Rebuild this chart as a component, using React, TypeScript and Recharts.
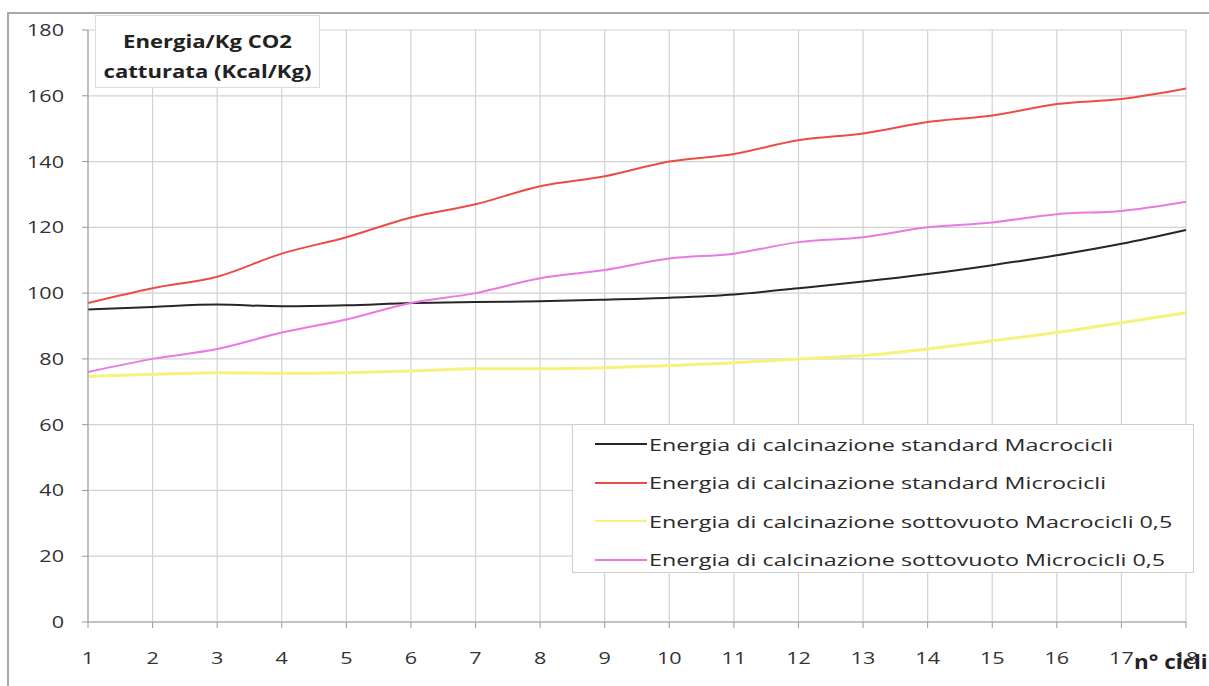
import React from 'react';
import { LineChart, Line, XAxis, YAxis, CartesianGrid } from 'recharts';

const cycles = ['1', '2', '3', '4', '5', '6', '7', '8', '9', '10', '11', '12', '13', '14', '15', '16', '17', '18'];

const standardMacro = [95, 95.8, 96.5, 96, 96.3, 97, 97.3, 97.5, 98, 98.6, 99.6, 101.5, 103.5, 105.8, 108.5, 111.5, 115, 119.2];
const standardMicro = [97, 101.5, 105, 112, 117, 123, 127, 132.5, 135.5, 140, 142.3, 146.5, 148.5, 152, 154, 157.5, 159, 162.2];
const vuotoMacro = [74.6, 75.3, 75.8, 75.6, 75.8, 76.3, 77, 77, 77.3, 78, 78.8, 80, 81, 83, 85.5, 88, 91, 94];
const vuotoMicro = [76, 80, 83, 88, 92, 97, 100, 104.5, 107, 110.5, 112, 115.5, 117, 120, 121.5, 124, 125, 127.8];

const yTicks = [0, 20, 40, 60, 80, 100, 120, 140, 160, 180];

const seriesNames = [
  'Energia di calcinazione standard Macrocicli',
  'Energia di calcinazione standard Microcicli',
  'Energia di calcinazione sottovuoto Macrocicli 0,5',
  'Energia di calcinazione sottovuoto Microcicli 0,5',
];
const seriesKeys = ['a', 'b', 'c', 'd'];
const seriesColors = ['#262626', '#ee4b45', '#f6f27c', '#ea7ae2'];
const seriesWidths = [2, 2, 3, 2];

const data = cycles.map((c, i) => ({
  ciclo: c,
  a: standardMacro[i],
  b: standardMicro[i],
  c: vuotoMacro[i],
  d: vuotoMicro[i],
}));

const font = '"Open Sans", Lato, sans-serif';
const stretch = 1.35;

// text in the original is wide and squat, so stretch it horizontally
const XTick = (props: any) => {
  const { x, y, payload } = props;
  return (
    <g transform={`translate(${x},${y})`}>
      <text transform={`scale(${stretch},1)`} textAnchor="middle" dy={16} fill="#333" fontSize={16} fontFamily={font}>
        {payload.value}
      </text>
    </g>
  );
};

const YTick = (props: any) => {
  const { x, y, payload } = props;
  return (
    <g transform={`translate(${x},${y})`}>
      <text transform={`scale(${stretch},1)`} textAnchor="end" dy={6} fill="#333" fontSize={16} fontFamily={font}>
        {payload.value}
      </text>
    </g>
  );
};

export default function App() {
  return (
    <div style={{ position: 'absolute', left: 0, top: 0, width: 1209, height: 686, background: '#fff', overflow: 'hidden' }}>
      <div
        style={{
          position: 'absolute',
          left: 7,
          top: 12,
          width: 1220,
          height: 700,
          borderLeft: '2px solid #a8a8a8',
          borderTop: '2px solid #a8a8a8',
        }}
      />
      <LineChart
        width={1209}
        height={686}
        data={data}
        margin={{ top: 30, right: 23, bottom: 24, left: 0 }}
        style={{ position: 'absolute', left: 0, top: 0 }}
      >
        <CartesianGrid stroke="#d2d2d2" strokeWidth={1.2} />
        <XAxis
          dataKey="ciclo"
          height={40}
          stroke="#9a9a9a"
          tickSize={6}
          tickMargin={20}
          tick={<XTick />}
          interval={0}
        />
        <YAxis
          domain={[0, 180]}
          ticks={yTicks}
          width={88}
          stroke="#9a9a9a"
          tickSize={6}
          tickMargin={18}
          tick={<YTick />}
        />
        {seriesKeys.map((k, i) => (
          <Line
            key={k}
            type="monotone"
            dataKey={k}
            name={seriesNames[i]}
            stroke={seriesColors[i]}
            strokeWidth={seriesWidths[i]}
            dot={false}
            isAnimationActive={false}
          />
        ))}
      </LineChart>
      <div
        style={{
          position: 'absolute',
          left: 572,
          top: 424,
          width: 622,
          height: 149,
          border: '1px solid #cfcfcf',
          background: '#fff',
          boxSizing: 'border-box',
          paddingTop: 0,
          paddingLeft: 22,
          fontFamily: font,
          fontSize: 17,
          color: '#2a2a2a',
        }}
      >
        {seriesNames.map((name, i) => (
          <div key={name} style={{ display: 'flex', alignItems: 'center', height: 38.5 }}>
            <div style={{ width: 52, height: 0, borderTop: `2px solid ${seriesColors[i]}`, marginRight: 2, flexShrink: 0 }} />
            <span style={{ display: 'inline-block', transform: 'scaleX(1.37)', transformOrigin: 'left center', whiteSpace: 'nowrap' }}>
              {name}
            </span>
          </div>
        ))}
      </div>
      <div
        style={{
          position: 'absolute',
          left: 95,
          top: 15,
          width: 225,
          height: 73,
          border: '1px solid #dcdcdc',
          background: '#fff',
          boxSizing: 'border-box',
          fontFamily: font,
          fontWeight: 'bold',
          fontSize: 17,
          color: '#222',
          textAlign: 'center',
          lineHeight: '30px',
          paddingTop: 11,
        }}
      >
        <div style={{ transform: 'scaleX(1.3)', whiteSpace: 'nowrap' }}>Energia/Kg CO2</div>
        <div style={{ transform: 'scaleX(1.3)', whiteSpace: 'nowrap' }}>catturata (Kcal/Kg)</div>
      </div>
      <div
        style={{
          position: 'absolute',
          left: 1134,
          top: 648,
          fontFamily: font,
          fontWeight: 'bold',
          fontSize: 20,
          color: '#222',
          whiteSpace: 'nowrap',
          transform: 'scaleX(1.12)',
          transformOrigin: 'left top',
        }}
      >
        n° cicli
      </div>
    </div>
  );
}
